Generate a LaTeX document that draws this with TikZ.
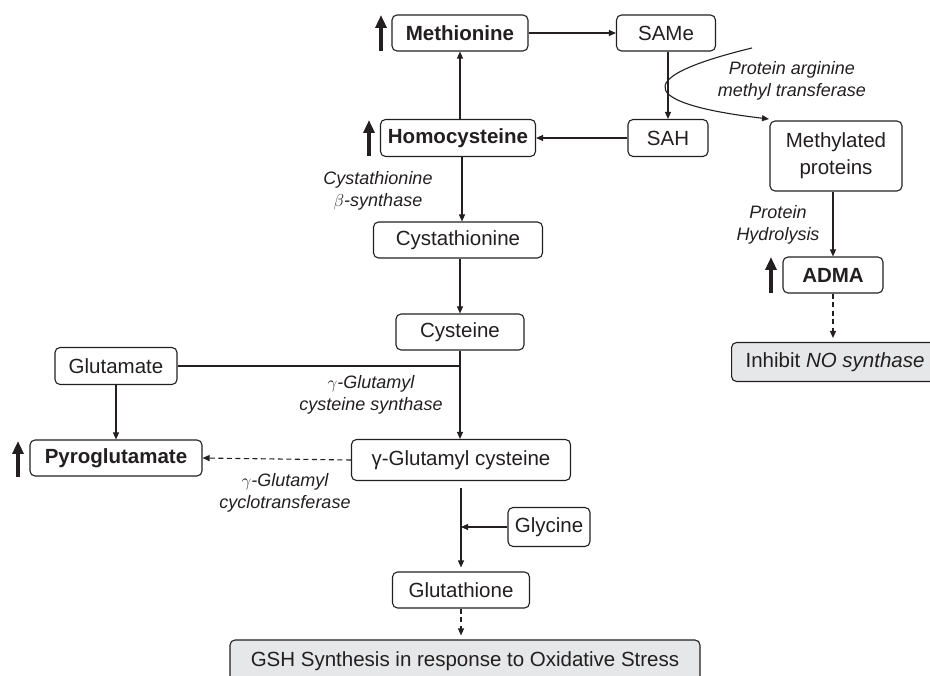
\documentclass[tikz,border=0pt]{standalone}
\usepackage{fontspec}
\setmainfont{Liberation Sans}
\usetikzlibrary{arrows.meta,calc}
\definecolor{ink}{HTML}{231F20}
\definecolor{boxgray}{HTML}{E6E7E8}
\begin{document}
\begin{tikzpicture}[x=1pt,y=-1pt,
  every node/.style={text=ink},
  box/.style={draw=ink,line width=1.1pt,rounded corners=5pt,fill=white,minimum height=36pt,inner sep=0pt,font=\fontsize{20.5}{24}\selectfont},
  bbox/.style={box,font=\fontsize{20.5}{24}\selectfont\bfseries},
  gbox/.style={box,fill=boxgray},
  lab/.style={align=center,inner sep=0pt,font=\fontsize{18}{22}\selectfont\itshape},
  conn/.style={draw=ink,line width=1.1pt,-{Triangle[length=7pt,width=6pt]}},
  dconn/.style={conn,dash pattern=on 5pt off 3.5pt},
  up/.style={draw=ink,line width=3.6pt,-{Triangle[length=13pt,width=11pt]}}
]
\useasboundingbox (0,0) rectangle (930,676);
% nodes
\node[bbox,minimum width=136pt] (met) at (460,33) {Methionine};
\node[box,minimum width=99pt] (same) at (666,33) {SAMe};
\node[box,minimum width=80pt,minimum height=37pt] (sah) at (668,138) {SAH};
\node[bbox,minimum width=155pt,minimum height=37pt] (homo) at (458,138) {Homocysteine};
\node[box,minimum width=132pt,minimum height=70pt,align=center,font=\fontsize{20.5}{27}\selectfont] (mp) at (836,156) {Methylated\\proteins};
\node[bbox,minimum width=100pt] (adma) at (833,275) {ADMA};
\node[gbox,minimum width=220pt,minimum height=39pt,anchor=west] (no) at (731,362) {\hspace*{-13pt}Inhibit \textit{NO synthase}};
\node[box,minimum width=169pt] (cysta) at (458,240) {Cystathionine};
\node[box,minimum width=128pt] (cys) at (460,332) {Cysteine};
\node[box,minimum width=122pt,minimum height=37pt] (glu) at (116,366) {Glutamate};
\node[bbox,minimum width=172pt] (pyro) at (116,458) {Pyroglutamate};
\node[box,minimum width=219pt,minimum height=41pt] (ggc) at (461,460) {γ-Glutamyl cysteine};
\node[box,minimum width=82pt,minimum height=39pt] (gly) at (549,527) {Glycine};
\node[box,minimum width=137pt] (gsh) at (461,590) {Glutathione};
\node[gbox,minimum width=470pt,minimum height=42pt] (stress) at (465,661) {GSH Synthesis in response to Oxidative Stress};
% labels
\node[lab] (l1) at (792,81) {Protein arginine\\methyl transferase};
\node[lab] (l2) at (378,191) {Cystathionine\\$\beta$-synthase};
\node[lab] (l3) at (371,395) {$\gamma$-Glutamyl\\cysteine synthase};
\node[lab] (l4) at (285,493) {$\gamma$-Glutamyl\\cyclotransferase};
\node[lab] (l5) at (778,225) {Protein\\Hydrolysis};
% up arrows
\coordinate (u1a) at (381,51); \coordinate (u1b) at (381,15);
\coordinate (u2a) at (369,156); \coordinate (u2b) at (369,120);
\coordinate (u3a) at (771,293); \coordinate (u3b) at (771,257);
\coordinate (u4a) at (18,477); \coordinate (u4b) at (18,441);
\foreach \a/\b in {u1a/u1b,u2a/u2b,u3a/u3b,u4a/u4b} \draw[up] (\a) -- (\b);
% connectors
\draw[conn] (met.east) -- (same.west);
\draw[conn] (same.south -| sah.north) -- (sah.north);
\draw[conn] (sah.west) -- (homo.east);
\draw[conn] (homo.north -| met.south) -- (met.south);
\draw[conn] ($(homo.south)+(4,0)$) -- ($(cysta.north)+(4,0)$);
\draw[conn] (cysta.south -| cys.south) -- (cys.south |- cys.north);
\draw[conn] (cys.south) -- (cys.south |- ggc.north);
\draw[draw=ink,line width=1.1pt] (glu.east) -- (glu.east -| cys.south);
\draw[conn] (glu.south) -- (pyro.north);
\draw[dconn] (ggc.west) -- (pyro.east);
\coordinate (gtop) at ($(ggc.south)+(0,7)$);
\draw[conn] (gtop) -- ($(gsh.north)+(0,-4)$);
\draw[conn] (gly.west) -- (gly.west -| gsh.north);
\draw[dconn] (gsh.south) -- ($(stress.north -| gsh.south)+(0,-4)$);
\draw[conn] (mp.south -| adma.north) -- (adma.north);
\draw[dconn] (adma.south) -- ($(no.north -| adma.south)+(0,-4)$);
% curve
\coordinate (cs) at (752,48);
\coordinate (ce) at (769,119);
\draw[conn] (cs) .. controls (620,80) and (650,105) .. (ce);
\end{tikzpicture}
\end{document}
